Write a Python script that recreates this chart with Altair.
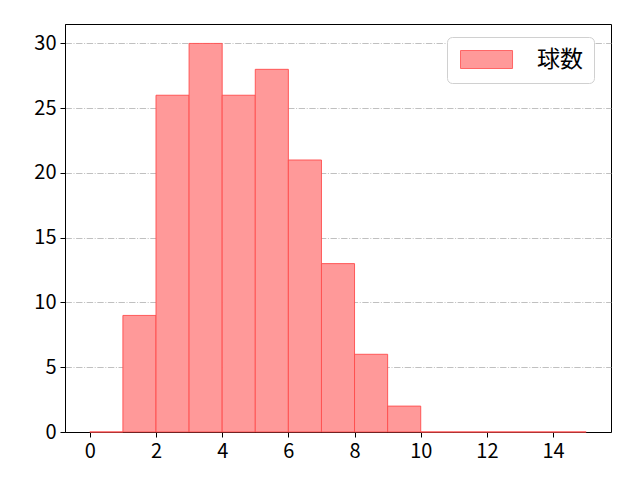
import altair as alt
import pandas as pd

bin_starts = [0, 1, 2, 3, 4, 5, 6, 7, 8, 9, 10, 11, 12, 13, 14]
counts = [0, 9, 26, 30, 26, 28, 21, 13, 6, 2, 0, 0, 0, 0, 0]
series_name = "球数"
x_ticks = [0, 2, 4, 6, 8, 10, 12, 14]
y_ticks = [0, 5, 10, 15, 20, 25, 30]

df = pd.DataFrame({
    "start": bin_starts,
    "end": [b + 1 for b in bin_starts],
    "count": counts,
    "series": [series_name] * len(bin_starts),
})

FONT = "Noto Sans CJK JP"

axis_common = dict(
    title=None, labelFontSize=20, labelFont=FONT, labelColor="black",
    tickColor="black", tickSize=5, tickWidth=1, labelPadding=4,
    domain=True, domainColor="black", domainWidth=1,
)

bars = alt.Chart(df).mark_rect(
    fillOpacity=1, stroke="#ff4d4d", strokeWidth=1, strokeOpacity=0.9
).encode(
    x=alt.X("start:Q",
            scale=alt.Scale(domain=[-0.75, 15.75], nice=False, zero=False),
            axis=alt.Axis(values=x_ticks, grid=False, format="d", **axis_common)),
    x2="end:Q",
    y=alt.Y("count:Q",
            scale=alt.Scale(domain=[0, 31.5], nice=False),
            axis=alt.Axis(values=y_ticks, grid=True,
                          gridColor="#b0b0b0", gridDash=[6.4, 1.6, 1, 1.6],
                          gridWidth=0.8, **axis_common)),
    color=alt.Color("series:N",
                    scale=alt.Scale(domain=[series_name], range=["#ff9999"]),
                    legend=alt.Legend(
                        title=None, orient="none", legendX=382, legendY=13,
                        symbolType="M-1,-1H4.78V1H-1Z", symbolSize=324,
                        symbolStrokeColor="#ff6666", symbolStrokeWidth=1,
                        labelFontSize=23, labelFont=FONT, labelColor="black",
                        labelOffset=56, strokeColor="#d0d0d0",
                        fillColor="white", cornerRadius=5, padding=11,
                    )),
    y2=alt.Y2(datum=0),
)

chart = bars.properties(
    width=546, height=408,
    background="white",
    autosize=alt.AutoSizeParams(type="none"),
    padding={"left": 57, "top": 16, "right": 21, "bottom": 40},
).configure_view(
    stroke="#000000", strokeWidth=1, strokeOpacity=1
)

chart.save("out.html", embed_options={"renderer": "svg", "actions": False})
